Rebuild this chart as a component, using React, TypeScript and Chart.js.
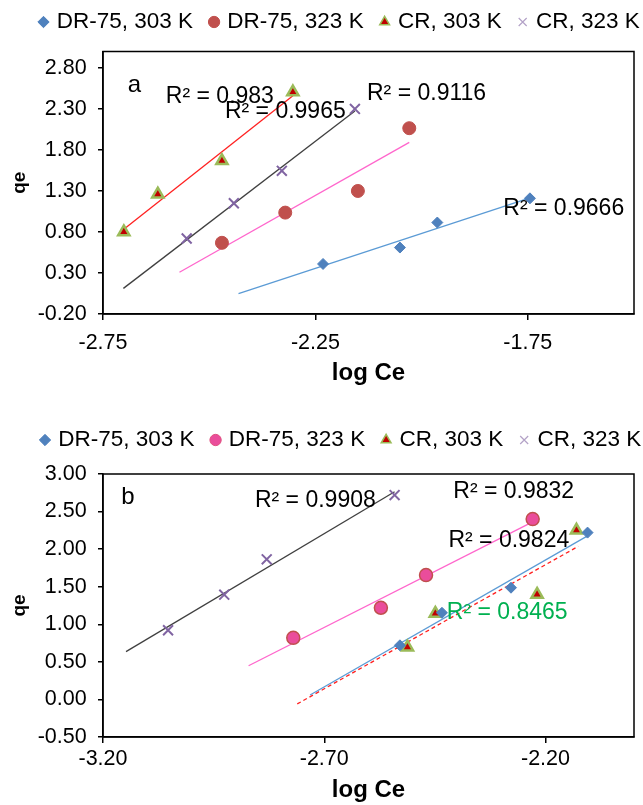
import React, { useEffect, useRef } from 'react';
import { Chart, registerables } from 'chart.js';

Chart.register(...registerables);

const FONT = "'Liberation Sans', Arial, Helvetica, sans-serif";
Chart.defaults.font.family = FONT;
Chart.defaults.color = '#000';

const seriesNames = ['DR-75, 303 K', 'DR-75, 323 K', 'CR, 303 K', 'CR, 323 K'];

// ---------- Panel (a) ----------
const aDr303X = [-2.232, -2.051, -1.963, -1.745];
const aDr303Y = [0.41, 0.61, 0.915, 1.21];
const aDr323X = [-2.47, -2.321, -2.15, -2.029];
const aDr323Y = [0.668, 1.036, 1.3, 2.065];
const aCr303X = [-2.701, -2.621, -2.47, -2.303];
const aCr303Y = [0.8, 1.26, 1.668, 2.506];
const aCr323X = [-2.553, -2.442, -2.329, -2.157];
const aCr323Y = [0.72, 1.15, 1.545, 2.3];
const aTrendFrom = [-2.431, -2.57, -2.701, -2.702];
const aTrendTo = [-1.745, -2.029, -2.303, -2.157];
const aR2 = ['R² = 0.9666', 'R² = 0.9116', 'R² = 0.983', 'R² = 0.9965'];
const aXTicks = [-2.75, -2.25, -1.75];
const aYTicks = [-0.2, 0.3, 0.8, 1.3, 1.8, 2.3, 2.8];

// ---------- Panel (b) ----------
const bDr303X = [-2.529, -2.434, -2.278, -2.105];
const bDr303Y = [0.72, 1.153, 1.487, 2.22];
const bDr323X = [-2.77, -2.572, -2.47, -2.229];
const bDr323Y = [0.82, 1.22, 1.655, 2.4];
const bCr303X = [-2.512, -2.449, -2.219, -2.13];
const bCr303Y = [0.695, 1.144, 1.398, 2.25];
const bCr323X = [-3.053, -2.926, -2.83, -2.541];
const bCr323Y = [0.921, 1.394, 1.865, 2.72];
const bTrendFrom = [-2.732, -2.871, -2.761, -3.148];
const bTrendTo = [-2.105, -2.229, -2.126, -2.541];
const bR2 = ['R² = 0.9824', 'R² = 0.9832', 'R² = 0.8465', 'R² = 0.9908'];
const bXTicks = [-3.2, -2.7, -2.2];
const bYTicks = [-0.5, 0, 0.5, 1, 1.5, 2, 2.5, 3];

function fitLine(xs: number[], ys: number[], x0: number, x1: number) {
  const n = xs.length;
  const mx = xs.reduce((s, v) => s + v, 0) / n;
  const my = ys.reduce((s, v) => s + v, 0) / n;
  let sxy = 0;
  let sxx = 0;
  for (let i = 0; i < n; i++) {
    sxy += (xs[i] - mx) * (ys[i] - my);
    sxx += (xs[i] - mx) * (xs[i] - mx);
  }
  const b = sxy / sxx;
  const a = my - b * mx;
  return [
    { x: x0, y: a + b * x0 },
    { x: x1, y: a + b * x1 },
  ];
}

type Marker = { style: string; r: number; fill: string; stroke: string; bw: number; lfill: string; lstroke: string; lbw: number };
type Trend = { color: string; dash: number[] };

const markersA: Marker[] = [
  { style: 'rectRot', r: 5.5, fill: '#4F81BD', stroke: '#4F81BD', bw: 1, lfill: '#4F81BD', lstroke: '#4F81BD', lbw: 1 },
  { style: 'circle', r: 6.5, fill: '#C0504D', stroke: '#C0504D', bw: 1, lfill: '#C0504D', lstroke: '#C0504D', lbw: 1 },
  { style: 'triangle', r: 6.5, fill: '#C00000', stroke: '#9BBB59', bw: 2.5, lfill: '#C00000', lstroke: '#9BBB59', lbw: 1.5 },
  { style: 'crossRot', r: 7, fill: '#8064A2', stroke: '#8064A2', bw: 2, lfill: '#B3A2C7', lstroke: '#B3A2C7', lbw: 1.2 },
];
const markersB: Marker[] = [
  markersA[0],
  { style: 'circle', r: 6.5, fill: '#EA4D9B', stroke: '#C0504D', bw: 1.5, lfill: '#EA4D9B', lstroke: '#E0507F', lbw: 1 },
  markersA[2],
  markersA[3],
];
const trendsA: Trend[] = [
  { color: '#5B9BD5', dash: [] },
  { color: '#FF66CC', dash: [] },
  { color: '#FF2020', dash: [] },
  { color: '#404040', dash: [] },
];
const trendsB: Trend[] = [
  { color: '#5B9BD5', dash: [] },
  { color: '#FF66CC', dash: [] },
  { color: '#FF2020', dash: [4, 3] },
  { color: '#404040', dash: [] },
];

type Note = { text: string; x: number; y: number; color: string; size: number };

type PanelCfg = {
  xs: number[][];
  ys: number[][];
  from: number[];
  to: number[];
  markers: Marker[];
  trends: Trend[];
  notes: Note[];
  xMin: number;
  xMax: number;
  xTicks: number[];
  yMin: number;
  yMax: number;
  yTicks: number[];
  height: number;
  padTop: number;
  padRight: number;
  xAxisHeight: number;
  xTickPad: number;
  xTitlePad: number;
  legendX: number;
  legendY: number;
};

const panelA: PanelCfg = {
  xs: [aDr303X, aDr323X, aCr303X, aCr323X],
  ys: [aDr303Y, aDr323Y, aCr303Y, aCr323Y],
  from: aTrendFrom,
  to: aTrendTo,
  markers: markersA,
  trends: trendsA,
  notes: [
    { text: 'a', x: -2.6916, y: 2.587, color: '#000', size: 24 },
    { text: aR2[2], x: -2.602, y: 2.445, color: '#000', size: 23 },
    { text: aR2[3], x: -2.463, y: 2.261, color: '#000', size: 23 },
    { text: aR2[1], x: -2.1285, y: 2.485, color: '#000', size: 23 },
    { text: aR2[0], x: -1.8075, y: 1.085, color: '#000', size: 23 },
  ],
  xMin: -2.75,
  xMax: -1.5,
  xTicks: aXTicks,
  yMin: -0.2,
  yMax: 3.0,
  yTicks: aYTicks,
  height: 392,
  padTop: 0,
  padRight: 5,
  xAxisHeight: 78,
  xTickPad: 10.4,
  xTitlePad: 4.6,
  legendX: 41.5,
  legendY: 22,
};

const panelB: PanelCfg = {
  xs: [bDr303X, bDr323X, bCr303X, bCr323X],
  ys: [bDr303Y, bDr323Y, bCr303Y, bCr323Y],
  from: bTrendFrom,
  to: bTrendTo,
  markers: markersB,
  trends: trendsB,
  notes: [
    { text: 'b', x: -3.159, y: 2.689, color: '#000', size: 24 },
    { text: bR2[3], x: -2.8566, y: 2.644, color: '#000', size: 23 },
    { text: bR2[1], x: -2.4083, y: 2.764, color: '#000', size: 23 },
    { text: bR2[0], x: -2.4194, y: 2.109, color: '#000', size: 23 },
    { text: bR2[2], x: -2.423, y: 1.154, color: '#00B050', size: 23 },
  ],
  xMin: -3.2,
  xMax: -2.0,
  xTicks: bXTicks,
  yMin: -0.5,
  yMax: 3.0,
  yTicks: bYTicks,
  height: 413,
  padTop: 30.5,
  padRight: 3,
  xAxisHeight: 68,
  xTickPad: 3.4,
  xTitlePad: 0,
  legendX: 43,
  legendY: 48,
};

const LEGEND_FONT = 22.5;
const LEGEND_PAD = 19;

// Keeps the Chart.js legend on one row and moves it to the reference position.
function legendShift(targetX: number, targetY: number) {
  return {
    id: 'legendShift',
    beforeLayout(chart: any) {
      const lg = chart.legend;
      if (!lg || lg.__shifted) return;
      lg.__shifted = true;
      const origFit = lg.fit.bind(lg);
      lg.fit = function () {
        const mw = lg.maxWidth;
        lg.maxWidth = mw + 400;
        origFit();
        lg.maxWidth = mw;
        lg.width = Math.min(lg.width, mw);
      };
      const origDraw = lg.draw.bind(lg);
      lg.draw = function (...args: any[]) {
        const p = lg.options.labels.padding;
        const sx = lg.left + p;
        const sy = lg.top + p + LEGEND_FONT / 2;
        const ctx = chart.ctx;
        const r = lg.right;
        lg.right = r + 400;
        ctx.save();
        ctx.translate(targetX - sx, targetY - sy);
        origDraw(...args);
        ctx.restore();
        lg.right = r;
      };
    },
  };
}

function frameNotes(notes: Note[]) {
  return {
    id: 'frameNotes',
    afterDatasetsDraw(chart: any) {
      const { ctx, chartArea: ca, scales } = chart;
      ctx.save();
      ctx.strokeStyle = '#000';
      ctx.lineWidth = 1.5;
      ctx.strokeRect(ca.left, ca.top, ca.right - ca.left, ca.bottom - ca.top);
      for (const n of notes) {
        ctx.font = `${n.size}px ${FONT}`;
        ctx.fillStyle = n.color;
        ctx.textAlign = 'left';
        ctx.textBaseline = 'middle';
        ctx.fillText(n.text, scales.x.getPixelForValue(n.x), scales.y.getPixelForValue(n.y));
      }
      ctx.restore();
    },
  };
}

function buildConfig(p: PanelCfg): any {
  const datasets: any[] = [];
  p.xs.forEach((xs, i) => {
    const m = p.markers[i];
    datasets.push({
      label: seriesNames[i],
      data: xs.map((x, j) => ({ x, y: p.ys[i][j] })),
      showLine: false,
      pointStyle: m.style,
      pointRadius: m.r,
      pointHoverRadius: m.r,
      pointBackgroundColor: m.fill,
      pointBorderColor: m.stroke,
      pointBorderWidth: m.bw,
      backgroundColor: m.fill,
      borderColor: m.stroke,
    });
  });
  p.xs.forEach((xs, i) => {
    const t = p.trends[i];
    datasets.push({
      label: '',
      data: fitLine(xs, p.ys[i], p.from[i], p.to[i]),
      showLine: true,
      pointRadius: 0,
      pointHoverRadius: 0,
      borderColor: t.color,
      backgroundColor: t.color,
      borderWidth: 1.3,
      borderDash: t.dash,
      fill: false,
    });
  });

  const tickFont = { size: 21.5, family: FONT };

  return {
    type: 'scatter',
    data: { datasets },
    options: {
      responsive: false,
      animation: false,
      events: [],
      layout: { padding: { top: p.padTop, right: p.padRight, left: 0, bottom: 0 } },
      plugins: {
        tooltip: { enabled: false },
        title: { display: false },
        legend: {
          display: true,
          position: 'top',
          align: 'start',
          labels: {
            usePointStyle: true,
            boxWidth: 4,
            boxHeight: 8,
            padding: LEGEND_PAD,
            color: '#000',
            font: { size: LEGEND_FONT, family: FONT },
            generateLabels: () =>
              seriesNames.map((name, i) => ({
                text: name,
                fillStyle: p.markers[i].lfill,
                strokeStyle: p.markers[i].lstroke,
                lineWidth: p.markers[i].lbw,
                pointStyle: p.markers[i].style,
                rotation: 0,
                hidden: false,
                datasetIndex: i,
              })),
          },
        },
      },
      scales: {
        x: {
          type: 'linear',
          position: 'bottom',
          min: p.xMin,
          max: p.xMax,
          afterBuildTicks: (s: any) => {
            s.ticks = p.xTicks.map((v) => ({ value: v }));
          },
          afterFit: (s: any) => {
            s.height = p.xAxisHeight;
          },
          ticks: {
            autoSkip: false,
            maxRotation: 0,
            padding: p.xTickPad,
            font: tickFont,
            color: '#000',
            callback: (v: any) => Number(v).toFixed(2),
          },
          grid: { display: true, drawOnChartArea: false, drawTicks: true, tickLength: 6, color: '#000', lineWidth: 1.5 },
          border: { display: true, color: '#000', width: 1.5 },
          title: {
            display: true,
            text: 'log Ce',
            color: '#000',
            font: { size: 24, weight: 'bold', family: FONT },
            padding: { top: 0, bottom: p.xTitlePad },
          },
        },
        y: {
          type: 'linear',
          position: 'left',
          min: p.yMin,
          max: p.yMax,
          afterBuildTicks: (s: any) => {
            s.ticks = p.yTicks.map((v) => ({ value: v }));
          },
          afterFit: (s: any) => {
            s.width = 103;
          },
          ticks: {
            autoSkip: false,
            padding: 11.3,
            font: tickFont,
            color: '#000',
            callback: (v: any) => Number(v).toFixed(2),
          },
          grid: { display: true, drawOnChartArea: false, drawTicks: true, tickLength: 5, color: '#000', lineWidth: 1.5 },
          border: { display: true, color: '#000', width: 1.5 },
          title: {
            display: true,
            text: 'qe',
            color: '#000',
            font: { size: 19, weight: 'bold', family: FONT },
            padding: { top: 8.6, bottom: 0 },
          },
        },
      },
    },
    plugins: [legendShift(p.legendX, p.legendY), frameNotes(p.notes)],
  };
}

function PanelChart({ cfg, top }: { cfg: PanelCfg; top: number }) {
  const ref = useRef<HTMLCanvasElement>(null);
  useEffect(() => {
    const chart = new Chart(ref.current as HTMLCanvasElement, buildConfig(cfg));
    return () => chart.destroy();
  }, [cfg]);
  return (
    <div style={{ position: 'absolute', left: 0, top, width: 643, height: cfg.height }}>
      <canvas ref={ref} width={643} height={cfg.height} style={{ display: 'block', width: 643, height: cfg.height }} />
    </div>
  );
}

export default function App() {
  return (
    <div style={{ position: 'absolute', left: 0, top: 0, width: 643, height: 805, overflow: 'hidden', background: '#fff' }}>
      <PanelChart cfg={panelA} top={0} />
      <PanelChart cfg={panelB} top={392} />
    </div>
  );
}
